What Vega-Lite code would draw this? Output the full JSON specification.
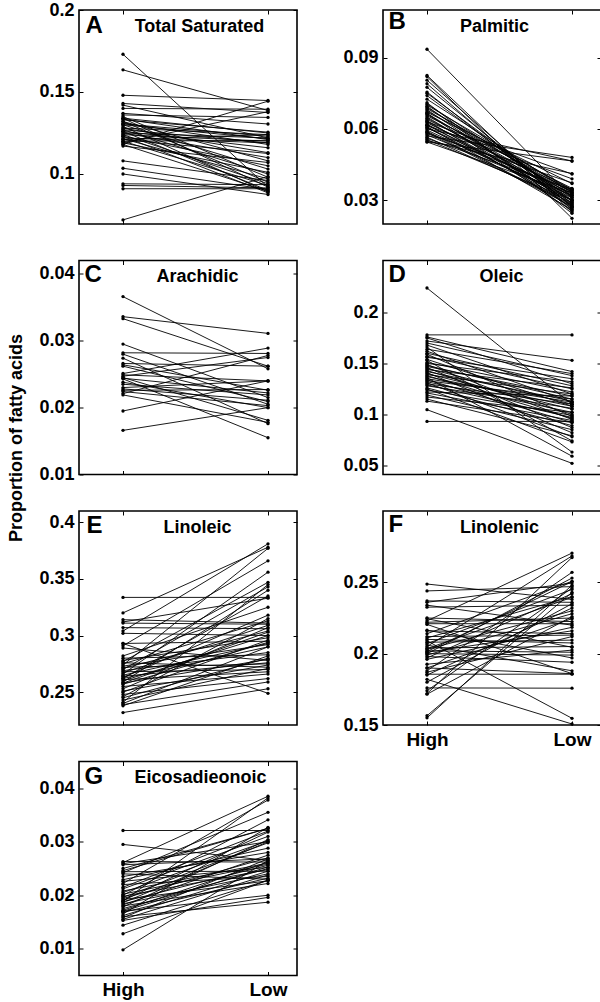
{
"$schema":"https://vega.github.io/schema/vega-lite/v6.json",
"padding":{"left":6,"top":0,"right":0,"bottom":0},
"background":"white",
"columns":2,
"spacing":{"row":36.5,"column":86},
"bounds":"flush",
"datasets":{
"A":[{"i":1,"g":"High","v":0.173},{"i":1,"g":"Low","v":0.092},{"i":2,"g":"High","v":0.1635},{"i":2,"g":"Low","v":0.1387},{"i":3,"g":"High","v":0.148},{"i":3,"g":"Low","v":0.1448},{"i":4,"g":"High","v":0.143},{"i":4,"g":"Low","v":0.1375},{"i":5,"g":"High","v":0.142},{"i":5,"g":"Low","v":0.122},{"i":6,"g":"High","v":0.14},{"i":6,"g":"Low","v":0.1395},{"i":7,"g":"High","v":0.137},{"i":7,"g":"Low","v":0.1305},{"i":8,"g":"High","v":0.136},{"i":8,"g":"Low","v":0.1345},{"i":9,"g":"High","v":0.135},{"i":9,"g":"Low","v":0.098},{"i":10,"g":"High","v":0.134},{"i":10,"g":"Low","v":0.125},{"i":11,"g":"High","v":0.134},{"i":11,"g":"Low","v":0.092},{"i":12,"g":"High","v":0.1335},{"i":12,"g":"Low","v":0.121},{"i":13,"g":"High","v":0.133},{"i":13,"g":"Low","v":0.1255},{"i":14,"g":"High","v":0.132},{"i":14,"g":"Low","v":0.108},{"i":15,"g":"High","v":0.132},{"i":15,"g":"Low","v":0.095},{"i":16,"g":"High","v":0.131},{"i":16,"g":"Low","v":0.118},{"i":17,"g":"High","v":0.1305},{"i":17,"g":"Low","v":0.123},{"i":18,"g":"High","v":0.13},{"i":18,"g":"Low","v":0.103},{"i":19,"g":"High","v":0.13},{"i":19,"g":"Low","v":0.1215},{"i":20,"g":"High","v":0.129},{"i":20,"g":"Low","v":0.089},{"i":21,"g":"High","v":0.128},{"i":21,"g":"Low","v":0.113},{"i":22,"g":"High","v":0.128},{"i":22,"g":"Low","v":0.124},{"i":23,"g":"High","v":0.127},{"i":23,"g":"Low","v":0.1},{"i":24,"g":"High","v":0.127},{"i":24,"g":"Low","v":0.119},{"i":25,"g":"High","v":0.126},{"i":25,"g":"Low","v":0.09},{"i":26,"g":"High","v":0.126},{"i":26,"g":"Low","v":0.116},{"i":27,"g":"High","v":0.125},{"i":27,"g":"Low","v":0.11},{"i":28,"g":"High","v":0.125},{"i":28,"g":"Low","v":0.122},{"i":29,"g":"High","v":0.124},{"i":29,"g":"Low","v":0.094},{"i":30,"g":"High","v":0.124},{"i":30,"g":"Low","v":0.12},{"i":31,"g":"High","v":0.123},{"i":31,"g":"Low","v":0.105},{"i":32,"g":"High","v":0.123},{"i":32,"g":"Low","v":0.0885},{"i":33,"g":"High","v":0.122},{"i":33,"g":"Low","v":0.119},{"i":34,"g":"High","v":0.1215},{"i":34,"g":"Low","v":0.097},{"i":35,"g":"High","v":0.121},{"i":35,"g":"Low","v":0.124},{"i":36,"g":"High","v":0.121},{"i":36,"g":"Low","v":0.1125},{"i":37,"g":"High","v":0.12},{"i":37,"g":"Low","v":0.093},{"i":38,"g":"High","v":0.12},{"i":38,"g":"Low","v":0.1205},{"i":39,"g":"High","v":0.119},{"i":39,"g":"Low","v":0.138},{"i":40,"g":"High","v":0.119},{"i":40,"g":"Low","v":0.101},{"i":41,"g":"High","v":0.118},{"i":41,"g":"Low","v":0.1444},{"i":42,"g":"High","v":0.118},{"i":42,"g":"Low","v":0.0895},{"i":43,"g":"High","v":0.117},{"i":43,"g":"Low","v":0.107},{"i":44,"g":"High","v":0.108},{"i":44,"g":"Low","v":0.096},{"i":45,"g":"High","v":0.1035},{"i":45,"g":"Low","v":0.0905},{"i":46,"g":"High","v":0.1},{"i":46,"g":"Low","v":0.0875},{"i":47,"g":"High","v":0.094},{"i":47,"g":"Low","v":0.0935},{"i":48,"g":"High","v":0.093},{"i":48,"g":"Low","v":0.0915},{"i":49,"g":"High","v":0.091},{"i":49,"g":"Low","v":0.091},{"i":50,"g":"High","v":0.072},{"i":50,"g":"Low","v":0.0985}],
"B":[{"i":1,"g":"High","v":0.0935},{"i":1,"g":"Low","v":0.031},{"i":2,"g":"High","v":0.0825},{"i":2,"g":"Low","v":0.025},{"i":3,"g":"High","v":0.082},{"i":3,"g":"Low","v":0.0224},{"i":4,"g":"High","v":0.0805},{"i":4,"g":"Low","v":0.027},{"i":5,"g":"High","v":0.079},{"i":5,"g":"Low","v":0.026},{"i":6,"g":"High","v":0.0775},{"i":6,"g":"Low","v":0.0285},{"i":7,"g":"High","v":0.0755},{"i":7,"g":"Low","v":0.0275},{"i":8,"g":"High","v":0.075},{"i":8,"g":"Low","v":0.03},{"i":9,"g":"High","v":0.074},{"i":9,"g":"Low","v":0.0295},{"i":10,"g":"High","v":0.0725},{"i":10,"g":"Low","v":0.033},{"i":11,"g":"High","v":0.071},{"i":11,"g":"Low","v":0.0245},{"i":12,"g":"High","v":0.0705},{"i":12,"g":"Low","v":0.031},{"i":13,"g":"High","v":0.07},{"i":13,"g":"Low","v":0.034},{"i":14,"g":"High","v":0.0695},{"i":14,"g":"Low","v":0.0265},{"i":15,"g":"High","v":0.069},{"i":15,"g":"Low","v":0.032},{"i":16,"g":"High","v":0.0685},{"i":16,"g":"Low","v":0.0345},{"i":17,"g":"High","v":0.068},{"i":17,"g":"Low","v":0.028},{"i":18,"g":"High","v":0.0675},{"i":18,"g":"Low","v":0.0335},{"i":19,"g":"High","v":0.067},{"i":19,"g":"Low","v":0.037},{"i":20,"g":"High","v":0.0665},{"i":20,"g":"Low","v":0.03},{"i":21,"g":"High","v":0.0665},{"i":21,"g":"Low","v":0.0255},{"i":22,"g":"High","v":0.066},{"i":22,"g":"Low","v":0.0325},{"i":23,"g":"High","v":0.0655},{"i":23,"g":"Low","v":0.035},{"i":24,"g":"High","v":0.065},{"i":24,"g":"Low","v":0.029},{"i":25,"g":"High","v":0.0645},{"i":25,"g":"Low","v":0.0315},{"i":26,"g":"High","v":0.064},{"i":26,"g":"Low","v":0.0335},{"i":27,"g":"High","v":0.0635},{"i":27,"g":"Low","v":0.027},{"i":28,"g":"High","v":0.063},{"i":28,"g":"Low","v":0.041},{"i":29,"g":"High","v":0.063},{"i":29,"g":"Low","v":0.03},{"i":30,"g":"High","v":0.0625},{"i":30,"g":"Low","v":0.0345},{"i":31,"g":"High","v":0.062},{"i":31,"g":"Low","v":0.0285},{"i":32,"g":"High","v":0.0615},{"i":32,"g":"Low","v":0.032},{"i":33,"g":"High","v":0.0615},{"i":33,"g":"Low","v":0.039},{"i":34,"g":"High","v":0.061},{"i":34,"g":"Low","v":0.026},{"i":35,"g":"High","v":0.0605},{"i":35,"g":"Low","v":0.033},{"i":36,"g":"High","v":0.0605},{"i":36,"g":"Low","v":0.03},{"i":37,"g":"High","v":0.06},{"i":37,"g":"Low","v":0.0465},{"i":38,"g":"High","v":0.0595},{"i":38,"g":"Low","v":0.031},{"i":39,"g":"High","v":0.059},{"i":39,"g":"Low","v":0.028},{"i":40,"g":"High","v":0.0585},{"i":40,"g":"Low","v":0.034},{"i":41,"g":"High","v":0.0585},{"i":41,"g":"Low","v":0.0275},{"i":42,"g":"High","v":0.058},{"i":42,"g":"Low","v":0.0373},{"i":43,"g":"High","v":0.0575},{"i":43,"g":"Low","v":0.032},{"i":44,"g":"High","v":0.057},{"i":44,"g":"Low","v":0.048},{"i":45,"g":"High","v":0.0565},{"i":45,"g":"Low","v":0.029},{"i":46,"g":"High","v":0.056},{"i":46,"g":"Low","v":0.0345},{"i":47,"g":"High","v":0.0555},{"i":47,"g":"Low","v":0.03},{"i":48,"g":"High","v":0.055},{"i":48,"g":"Low","v":0.0412},{"i":49,"g":"High","v":0.0545},{"i":49,"g":"Low","v":0.033},{"i":50,"g":"High","v":0.0545},{"i":50,"g":"Low","v":0.0465}],
"C":[{"i":1,"g":"High","v":0.0366},{"i":1,"g":"Low","v":0.0258},{"i":2,"g":"High","v":0.0336},{"i":2,"g":"Low","v":0.0311},{"i":3,"g":"High","v":0.0333},{"i":3,"g":"Low","v":0.0262},{"i":4,"g":"High","v":0.0295},{"i":4,"g":"Low","v":0.0215},{"i":5,"g":"High","v":0.0282},{"i":5,"g":"Low","v":0.0281},{"i":6,"g":"High","v":0.028},{"i":6,"g":"Low","v":0.0205},{"i":7,"g":"High","v":0.0274},{"i":7,"g":"Low","v":0.0176},{"i":8,"g":"High","v":0.0266},{"i":8,"g":"Low","v":0.0262},{"i":9,"g":"High","v":0.0264},{"i":9,"g":"Low","v":0.0226},{"i":10,"g":"High","v":0.0262},{"i":10,"g":"Low","v":0.0209},{"i":11,"g":"High","v":0.0251},{"i":11,"g":"Low","v":0.0289},{"i":12,"g":"High","v":0.0249},{"i":12,"g":"Low","v":0.024},{"i":13,"g":"High","v":0.0247},{"i":13,"g":"Low","v":0.0275},{"i":14,"g":"High","v":0.0245},{"i":14,"g":"Low","v":0.0181},{"i":15,"g":"High","v":0.0244},{"i":15,"g":"Low","v":0.0222},{"i":16,"g":"High","v":0.0243},{"i":16,"g":"Low","v":0.0155},{"i":17,"g":"High","v":0.0238},{"i":17,"g":"Low","v":0.02},{"i":18,"g":"High","v":0.0235},{"i":18,"g":"Low","v":0.0219},{"i":19,"g":"High","v":0.023},{"i":19,"g":"Low","v":0.024},{"i":20,"g":"High","v":0.0226},{"i":20,"g":"Low","v":0.0227},{"i":21,"g":"High","v":0.0224},{"i":21,"g":"Low","v":0.0203},{"i":22,"g":"High","v":0.0221},{"i":22,"g":"Low","v":0.0278},{"i":23,"g":"High","v":0.0219},{"i":23,"g":"Low","v":0.0178},{"i":24,"g":"High","v":0.0195},{"i":24,"g":"Low","v":0.024},{"i":25,"g":"High","v":0.0166},{"i":25,"g":"Low","v":0.02},{"i":26,"g":"High","v":0.0228},{"i":26,"g":"Low","v":0.0211}],
"D":[{"i":1,"g":"High","v":0.224},{"i":1,"g":"Low","v":0.11},{"i":2,"g":"High","v":0.178},{"i":2,"g":"Low","v":0.178},{"i":3,"g":"High","v":0.176},{"i":3,"g":"Low","v":0.142},{"i":4,"g":"High","v":0.175},{"i":4,"g":"Low","v":0.13},{"i":5,"g":"High","v":0.172},{"i":5,"g":"Low","v":0.153},{"i":6,"g":"High","v":0.17},{"i":6,"g":"Low","v":0.138},{"i":7,"g":"High","v":0.168},{"i":7,"g":"Low","v":0.12},{"i":8,"g":"High","v":0.166},{"i":8,"g":"Low","v":0.063},{"i":9,"g":"High","v":0.164},{"i":9,"g":"Low","v":0.14},{"i":10,"g":"High","v":0.162},{"i":10,"g":"Low","v":0.112},{"i":11,"g":"High","v":0.16},{"i":11,"g":"Low","v":0.128},{"i":12,"g":"High","v":0.159},{"i":12,"g":"Low","v":0.098},{"i":13,"g":"High","v":0.157},{"i":13,"g":"Low","v":0.125},{"i":14,"g":"High","v":0.156},{"i":14,"g":"Low","v":0.135},{"i":15,"g":"High","v":0.154},{"i":15,"g":"Low","v":0.108},{"i":16,"g":"High","v":0.153},{"i":16,"g":"Low","v":0.074},{"i":17,"g":"High","v":0.151},{"i":17,"g":"Low","v":0.122},{"i":18,"g":"High","v":0.15},{"i":18,"g":"Low","v":0.132},{"i":19,"g":"High","v":0.149},{"i":19,"g":"Low","v":0.095},{"i":20,"g":"High","v":0.148},{"i":20,"g":"Low","v":0.115},{"i":21,"g":"High","v":0.147},{"i":21,"g":"Low","v":0.118},{"i":22,"g":"High","v":0.146},{"i":22,"g":"Low","v":0.087},{"i":23,"g":"High","v":0.145},{"i":23,"g":"Low","v":0.11},{"i":24,"g":"High","v":0.144},{"i":24,"g":"Low","v":0.126},{"i":25,"g":"High","v":0.143},{"i":25,"g":"Low","v":0.1},{"i":26,"g":"High","v":0.142},{"i":26,"g":"Low","v":0.113},{"i":27,"g":"High","v":0.141},{"i":27,"g":"Low","v":0.082},{"i":28,"g":"High","v":0.14},{"i":28,"g":"Low","v":0.105},{"i":29,"g":"High","v":0.139},{"i":29,"g":"Low","v":0.12},{"i":30,"g":"High","v":0.138},{"i":30,"g":"Low","v":0.096},{"i":31,"g":"High","v":0.137},{"i":31,"g":"Low","v":0.108},{"i":32,"g":"High","v":0.136},{"i":32,"g":"Low","v":0.059},{"i":33,"g":"High","v":0.135},{"i":33,"g":"Low","v":0.112},{"i":34,"g":"High","v":0.134},{"i":34,"g":"Low","v":0.092},{"i":35,"g":"High","v":0.133},{"i":35,"g":"Low","v":0.115},{"i":36,"g":"High","v":0.132},{"i":36,"g":"Low","v":0.102},{"i":37,"g":"High","v":0.131},{"i":37,"g":"Low","v":0.078},{"i":38,"g":"High","v":0.13},{"i":38,"g":"Low","v":0.11},{"i":39,"g":"High","v":0.129},{"i":39,"g":"Low","v":0.097},{"i":40,"g":"High","v":0.128},{"i":40,"g":"Low","v":0.106},{"i":41,"g":"High","v":0.126},{"i":41,"g":"Low","v":0.089},{"i":42,"g":"High","v":0.125},{"i":42,"g":"Low","v":0.073},{"i":43,"g":"High","v":0.124},{"i":43,"g":"Low","v":0.099},{"i":44,"g":"High","v":0.122},{"i":44,"g":"Low","v":0.118},{"i":45,"g":"High","v":0.121},{"i":45,"g":"Low","v":0.094},{"i":46,"g":"High","v":0.119},{"i":46,"g":"Low","v":0.085},{"i":47,"g":"High","v":0.117},{"i":47,"g":"Low","v":0.102},{"i":48,"g":"High","v":0.115},{"i":48,"g":"Low","v":0.079},{"i":49,"g":"High","v":0.113},{"i":49,"g":"Low","v":0.092},{"i":50,"g":"High","v":0.1046},{"i":50,"g":"Low","v":0.052},{"i":51,"g":"High","v":0.0931},{"i":51,"g":"Low","v":0.0931}],
"E":[{"i":1,"g":"High","v":0.3337},{"i":1,"g":"Low","v":0.3337},{"i":2,"g":"High","v":0.32},{"i":2,"g":"Low","v":0.378},{"i":3,"g":"High","v":0.314},{"i":3,"g":"Low","v":0.311},{"i":4,"g":"High","v":0.312},{"i":4,"g":"Low","v":0.333},{"i":5,"g":"High","v":0.311},{"i":5,"g":"Low","v":0.31},{"i":6,"g":"High","v":0.307},{"i":6,"g":"Low","v":0.306},{"i":7,"g":"High","v":0.304},{"i":7,"g":"Low","v":0.381},{"i":8,"g":"High","v":0.302},{"i":8,"g":"Low","v":0.3},{"i":9,"g":"High","v":0.293},{"i":9,"g":"Low","v":0.249},{"i":10,"g":"High","v":0.293},{"i":10,"g":"Low","v":0.295},{"i":11,"g":"High","v":0.291},{"i":11,"g":"Low","v":0.366},{"i":12,"g":"High","v":0.289},{"i":12,"g":"Low","v":0.278},{"i":13,"g":"High","v":0.282},{"i":13,"g":"Low","v":0.325},{"i":14,"g":"High","v":0.28},{"i":14,"g":"Low","v":0.283},{"i":15,"g":"High","v":0.278},{"i":15,"g":"Low","v":0.298},{"i":16,"g":"High","v":0.277},{"i":16,"g":"Low","v":0.347},{"i":17,"g":"High","v":0.276},{"i":17,"g":"Low","v":0.272},{"i":18,"g":"High","v":0.275},{"i":18,"g":"Low","v":0.313},{"i":19,"g":"High","v":0.274},{"i":19,"g":"Low","v":0.377},{"i":20,"g":"High","v":0.273},{"i":20,"g":"Low","v":0.292},{"i":21,"g":"High","v":0.272},{"i":21,"g":"Low","v":0.275},{"i":22,"g":"High","v":0.271},{"i":22,"g":"Low","v":0.304},{"i":23,"g":"High","v":0.27},{"i":23,"g":"Low","v":0.343},{"i":24,"g":"High","v":0.269},{"i":24,"g":"Low","v":0.285},{"i":25,"g":"High","v":0.268},{"i":25,"g":"Low","v":0.27},{"i":26,"g":"High","v":0.267},{"i":26,"g":"Low","v":0.309},{"i":27,"g":"High","v":0.266},{"i":27,"g":"Low","v":0.356},{"i":28,"g":"High","v":0.265},{"i":28,"g":"Low","v":0.293},{"i":29,"g":"High","v":0.264},{"i":29,"g":"Low","v":0.276},{"i":30,"g":"High","v":0.263},{"i":30,"g":"Low","v":0.318},{"i":31,"g":"High","v":0.262},{"i":31,"g":"Low","v":0.29},{"i":32,"g":"High","v":0.261},{"i":32,"g":"Low","v":0.268},{"i":33,"g":"High","v":0.26},{"i":33,"g":"Low","v":0.3},{"i":34,"g":"High","v":0.259},{"i":34,"g":"Low","v":0.34},{"i":35,"g":"High","v":0.258},{"i":35,"g":"Low","v":0.279},{"i":36,"g":"High","v":0.257},{"i":36,"g":"Low","v":0.294},{"i":37,"g":"High","v":0.255},{"i":37,"g":"Low","v":0.266},{"i":38,"g":"High","v":0.253},{"i":38,"g":"Low","v":0.307},{"i":39,"g":"High","v":0.251},{"i":39,"g":"Low","v":0.274},{"i":40,"g":"High","v":0.25},{"i":40,"g":"Low","v":0.296},{"i":41,"g":"High","v":0.248},{"i":41,"g":"Low","v":0.262},{"i":42,"g":"High","v":0.246},{"i":42,"g":"Low","v":0.315},{"i":43,"g":"High","v":0.245},{"i":43,"g":"Low","v":0.28},{"i":44,"g":"High","v":0.243},{"i":44,"g":"Low","v":0.271},{"i":45,"g":"High","v":0.241},{"i":45,"g":"Low","v":0.345},{"i":46,"g":"High","v":0.24},{"i":46,"g":"Low","v":0.29},{"i":47,"g":"High","v":0.239},{"i":47,"g":"Low","v":0.259},{"i":48,"g":"High","v":0.238},{"i":48,"g":"Low","v":0.282},{"i":49,"g":"High","v":0.232},{"i":49,"g":"Low","v":0.253},{"i":50,"g":"High","v":0.258},{"i":50,"g":"Low","v":0.303},{"i":51,"g":"High","v":0.262},{"i":51,"g":"Low","v":0.335}],
"F":[{"i":1,"g":"High","v":0.2488},{"i":1,"g":"Low","v":0.238},{"i":2,"g":"High","v":0.244},{"i":2,"g":"Low","v":0.247},{"i":3,"g":"High","v":0.237},{"i":3,"g":"Low","v":0.236},{"i":4,"g":"High","v":0.236},{"i":4,"g":"Low","v":0.2495},{"i":5,"g":"High","v":0.234},{"i":5,"g":"Low","v":0.22},{"i":6,"g":"High","v":0.2326},{"i":6,"g":"Low","v":0.234},{"i":7,"g":"High","v":0.2245},{"i":7,"g":"Low","v":0.2045},{"i":8,"g":"High","v":0.223},{"i":8,"g":"Low","v":0.2705},{"i":9,"g":"High","v":0.222},{"i":9,"g":"Low","v":0.225},{"i":10,"g":"High","v":0.2205},{"i":10,"g":"Low","v":0.186},{"i":11,"g":"High","v":0.221},{"i":11,"g":"Low","v":0.221},{"i":12,"g":"High","v":0.216},{"i":12,"g":"Low","v":0.214},{"i":13,"g":"High","v":0.214},{"i":13,"g":"Low","v":0.2507},{"i":14,"g":"High","v":0.212},{"i":14,"g":"Low","v":0.213},{"i":15,"g":"High","v":0.211},{"i":15,"g":"Low","v":0.24},{"i":16,"g":"High","v":0.209},{"i":16,"g":"Low","v":0.1547},{"i":17,"g":"High","v":0.208},{"i":17,"g":"Low","v":0.2095},{"i":18,"g":"High","v":0.207},{"i":18,"g":"Low","v":0.245},{"i":19,"g":"High","v":0.206},{"i":19,"g":"Low","v":0.188},{"i":20,"g":"High","v":0.205},{"i":20,"g":"Low","v":0.2685},{"i":21,"g":"High","v":0.204},{"i":21,"g":"Low","v":0.205},{"i":22,"g":"High","v":0.203},{"i":22,"g":"Low","v":0.23},{"i":23,"g":"High","v":0.202},{"i":23,"g":"Low","v":0.201},{"i":24,"g":"High","v":0.2015},{"i":24,"g":"Low","v":0.2505},{"i":25,"g":"High","v":0.201},{"i":25,"g":"Low","v":0.216},{"i":26,"g":"High","v":0.2},{"i":26,"g":"Low","v":0.199},{"i":27,"g":"High","v":0.199},{"i":27,"g":"Low","v":0.228},{"i":28,"g":"High","v":0.198},{"i":28,"g":"Low","v":0.194},{"i":29,"g":"High","v":0.197},{"i":29,"g":"Low","v":0.242},{"i":30,"g":"High","v":0.1926},{"i":30,"g":"Low","v":0.2025},{"i":31,"g":"High","v":0.19},{"i":31,"g":"Low","v":0.186},{"i":32,"g":"High","v":0.188},{"i":32,"g":"Low","v":0.257},{"i":33,"g":"High","v":0.187},{"i":33,"g":"Low","v":0.212},{"i":34,"g":"High","v":0.1856},{"i":34,"g":"Low","v":0.1856},{"i":35,"g":"High","v":0.182},{"i":35,"g":"Low","v":0.1507},{"i":36,"g":"High","v":0.18},{"i":36,"g":"Low","v":0.235},{"i":37,"g":"High","v":0.176},{"i":37,"g":"Low","v":0.1758},{"i":38,"g":"High","v":0.174},{"i":38,"g":"Low","v":0.246},{"i":39,"g":"High","v":0.172},{"i":39,"g":"Low","v":0.2674},{"i":40,"g":"High","v":0.1716},{"i":40,"g":"Low","v":0.226},{"i":41,"g":"High","v":0.155},{"i":41,"g":"Low","v":0.248},{"i":42,"g":"High","v":0.1565},{"i":42,"g":"Low","v":0.243},{"i":43,"g":"High","v":0.196},{"i":43,"g":"Low","v":0.2185},{"i":44,"g":"High","v":0.21},{"i":44,"g":"Low","v":0.2075},{"i":45,"g":"High","v":0.225},{"i":45,"g":"Low","v":0.2225},{"i":46,"g":"High","v":0.185},{"i":46,"g":"Low","v":0.232},{"i":47,"g":"High","v":0.2165},{"i":47,"g":"Low","v":0.197},{"i":48,"g":"High","v":0.19},{"i":48,"g":"Low","v":0.2245},{"i":49,"g":"High","v":0.2035},{"i":49,"g":"Low","v":0.2395},{"i":50,"g":"High","v":0.2},{"i":50,"g":"Low","v":0.253}],
"G":[{"i":1,"g":"High","v":0.0321},{"i":1,"g":"Low","v":0.0321},{"i":2,"g":"High","v":0.0295},{"i":2,"g":"Low","v":0.0265},{"i":3,"g":"High","v":0.0263},{"i":3,"g":"Low","v":0.0262},{"i":4,"g":"High","v":0.0261},{"i":4,"g":"Low","v":0.0385},{"i":5,"g":"High","v":0.0259},{"i":5,"g":"Low","v":0.03},{"i":6,"g":"High","v":0.0257},{"i":6,"g":"Low","v":0.0268},{"i":7,"g":"High","v":0.0246},{"i":7,"g":"Low","v":0.0325},{"i":8,"g":"High","v":0.0244},{"i":8,"g":"Low","v":0.0245},{"i":9,"g":"High","v":0.0242},{"i":9,"g":"Low","v":0.0355},{"i":10,"g":"High","v":0.024},{"i":10,"g":"Low","v":0.023},{"i":11,"g":"High","v":0.0229},{"i":11,"g":"Low","v":0.0288},{"i":12,"g":"High","v":0.0226},{"i":12,"g":"Low","v":0.0252},{"i":13,"g":"High","v":0.0222},{"i":13,"g":"Low","v":0.0378},{"i":14,"g":"High","v":0.022},{"i":14,"g":"Low","v":0.0235},{"i":15,"g":"High","v":0.0212},{"i":15,"g":"Low","v":0.031},{"i":16,"g":"High","v":0.0208},{"i":16,"g":"Low","v":0.026},{"i":17,"g":"High","v":0.0205},{"i":17,"g":"Low","v":0.0302},{"i":18,"g":"High","v":0.0202},{"i":18,"g":"Low","v":0.0258},{"i":19,"g":"High","v":0.02},{"i":19,"g":"Low","v":0.0341},{"i":20,"g":"High","v":0.0198},{"i":20,"g":"Low","v":0.0248},{"i":21,"g":"High","v":0.0196},{"i":21,"g":"Low","v":0.0298},{"i":22,"g":"High","v":0.0194},{"i":22,"g":"Low","v":0.027},{"i":23,"g":"High","v":0.0192},{"i":23,"g":"Low","v":0.0227},{"i":24,"g":"High","v":0.019},{"i":24,"g":"Low","v":0.0318},{"i":25,"g":"High","v":0.0188},{"i":25,"g":"Low","v":0.0256},{"i":26,"g":"High","v":0.0186},{"i":26,"g":"Low","v":0.03},{"i":27,"g":"High","v":0.0184},{"i":27,"g":"Low","v":0.024},{"i":28,"g":"High","v":0.0182},{"i":28,"g":"Low","v":0.0275},{"i":29,"g":"High","v":0.018},{"i":29,"g":"Low","v":0.0222},{"i":30,"g":"High","v":0.0178},{"i":30,"g":"Low","v":0.0304},{"i":31,"g":"High","v":0.0175},{"i":31,"g":"Low","v":0.025},{"i":32,"g":"High","v":0.0172},{"i":32,"g":"Low","v":0.0262},{"i":33,"g":"High","v":0.017},{"i":33,"g":"Low","v":0.02},{"i":34,"g":"High","v":0.0168},{"i":34,"g":"Low","v":0.0232},{"i":35,"g":"High","v":0.0165},{"i":35,"g":"Low","v":0.0327},{"i":36,"g":"High","v":0.0162},{"i":36,"g":"Low","v":0.0245},{"i":37,"g":"High","v":0.016},{"i":37,"g":"Low","v":0.0187},{"i":38,"g":"High","v":0.0158},{"i":38,"g":"Low","v":0.0268},{"i":39,"g":"High","v":0.0155},{"i":39,"g":"Low","v":0.0238},{"i":40,"g":"High","v":0.0153},{"i":40,"g":"Low","v":0.0196},{"i":41,"g":"High","v":0.0144},{"i":41,"g":"Low","v":0.0228},{"i":42,"g":"High","v":0.0128},{"i":42,"g":"Low","v":0.0228},{"i":43,"g":"High","v":0.0098},{"i":43,"g":"Low","v":0.0265},{"i":44,"g":"High","v":0.0215},{"i":44,"g":"Low","v":0.032},{"i":45,"g":"High","v":0.0235},{"i":45,"g":"Low","v":0.028},{"i":46,"g":"High","v":0.025},{"i":46,"g":"Low","v":0.0325},{"i":47,"g":"High","v":0.0189},{"i":47,"g":"Low","v":0.0382},{"i":48,"g":"High","v":0.017},{"i":48,"g":"Low","v":0.0253}]
},
"concat":[
{"width":218,"height":214,"data":{"name":"A"},
 "layer":[
  {"mark":{"type":"line","color":"black","strokeWidth":0.9},
   "encoding":{
    "x":{"field":"g","type":"ordinal","scale":{"type":"point","domain":["High","Low"],"padding":0.2517,"align":0.6027},"axis":{"orient":"bottom","labels":false,"title":null}},
    "y":{"field":"v","type":"quantitative","scale":{"domain":[0.0695,0.2],"nice":false,"zero":false},"axis":{"orient":"left","values":[0.1,0.15,0.2],"format":"~g","title":null}},
    "detail":{"field":"i","type":"nominal"}}},
  {"mark":{"type":"circle","color":"black","size":11,"opacity":1},
   "encoding":{
    "x":{"field":"g","type":"ordinal","axis":{"orient":"top","labels":false,"title":"Total Saturated","titleX":120,"titleY":21,"titleAlign":"center","titleBaseline":"alphabetic","titleFontSize":18}},
    "y":{"field":"v","type":"quantitative","axis":{"orient":"right","values":[0.1,0.15,0.2],"labels":false,"title":"A","titleAngle":0,"titleX":-212,"titleY":22,"titleAlign":"left","titleBaseline":"alphabetic","titleFontSize":24}}}}
 ],
 "resolve":{"axis":{"x":"independent","y":"independent"}}},
{"width":218,"height":214,"data":{"name":"B"},
 "layer":[
  {"mark":{"type":"line","color":"black","strokeWidth":0.9},
   "encoding":{
    "x":{"field":"g","type":"ordinal","scale":{"type":"point","domain":["High","Low"],"padding":0.2517,"align":0.6027},"axis":{"orient":"bottom","labels":false,"title":null}},
    "y":{"field":"v","type":"quantitative","scale":{"domain":[0.02,0.11],"nice":false,"zero":false},"axis":{"orient":"left","values":[0.03,0.06,0.09],"format":"~g","title":null}},
    "detail":{"field":"i","type":"nominal"}}},
  {"mark":{"type":"circle","color":"black","size":11,"opacity":1},
   "encoding":{
    "x":{"field":"g","type":"ordinal","axis":{"orient":"top","labels":false,"title":"Palmitic","titleX":111,"titleY":21,"titleAlign":"center","titleBaseline":"alphabetic","titleFontSize":18}},
    "y":{"field":"v","type":"quantitative","axis":{"orient":"right","values":[0.03,0.06,0.09],"labels":false,"title":"B","titleAngle":0,"titleX":-213,"titleY":18,"titleAlign":"left","titleBaseline":"alphabetic","titleFontSize":24}}}}
 ],
 "resolve":{"axis":{"x":"independent","y":"independent"}}},
{"width":218,"height":214,"data":{"name":"C"},
 "layer":[
  {"mark":{"type":"line","color":"black","strokeWidth":0.9},
   "encoding":{
    "x":{"field":"g","type":"ordinal","scale":{"type":"point","domain":["High","Low"],"padding":0.2517,"align":0.6027},"axis":{"orient":"bottom","labels":false,"title":null}},
    "y":{"field":"v","type":"quantitative","scale":{"domain":[0.01,0.042],"nice":false,"zero":false},"axis":{"orient":"left","values":[0.01,0.02,0.03,0.04],"format":"~g","title":"Proportion of fatty acids","titleAngle":-90,"titleX":-63,"titleY":177,"titleAlign":"center","titleBaseline":"middle","titleFontSize":18}},
    "detail":{"field":"i","type":"nominal"}}},
  {"mark":{"type":"circle","color":"black","size":11,"opacity":1},
   "encoding":{
    "x":{"field":"g","type":"ordinal","axis":{"orient":"top","labels":false,"title":"Arachidic","titleX":118,"titleY":21,"titleAlign":"center","titleBaseline":"alphabetic","titleFontSize":18}},
    "y":{"field":"v","type":"quantitative","axis":{"orient":"right","values":[0.01,0.02,0.03,0.04],"labels":false,"title":"C","titleAngle":0,"titleX":-213,"titleY":21,"titleAlign":"left","titleBaseline":"alphabetic","titleFontSize":24}}}}
 ],
 "resolve":{"axis":{"x":"independent","y":"independent"}}},
{"width":218,"height":214,"data":{"name":"D"},
 "layer":[
  {"mark":{"type":"line","color":"black","strokeWidth":0.9},
   "encoding":{
    "x":{"field":"g","type":"ordinal","scale":{"type":"point","domain":["High","Low"],"padding":0.2517,"align":0.6027},"axis":{"orient":"bottom","labels":false,"title":null}},
    "y":{"field":"v","type":"quantitative","scale":{"domain":[0.041,0.251],"nice":false,"zero":false},"axis":{"orient":"left","values":[0.05,0.1,0.15,0.2],"format":"~g","title":null}},
    "detail":{"field":"i","type":"nominal"}}},
  {"mark":{"type":"circle","color":"black","size":11,"opacity":1},
   "encoding":{
    "x":{"field":"g","type":"ordinal","axis":{"orient":"top","labels":false,"title":"Oleic","titleX":118,"titleY":21,"titleAlign":"center","titleBaseline":"alphabetic","titleFontSize":18}},
    "y":{"field":"v","type":"quantitative","axis":{"orient":"right","values":[0.05,0.1,0.15,0.2],"labels":false,"title":"D","titleAngle":0,"titleX":-213,"titleY":21,"titleAlign":"left","titleBaseline":"alphabetic","titleFontSize":24}}}}
 ],
 "resolve":{"axis":{"x":"independent","y":"independent"}}},
{"width":218,"height":214,"data":{"name":"E"},
 "layer":[
  {"mark":{"type":"line","color":"black","strokeWidth":0.9},
   "encoding":{
    "x":{"field":"g","type":"ordinal","scale":{"type":"point","domain":["High","Low"],"padding":0.2517,"align":0.6027},"axis":{"orient":"bottom","labels":false,"title":null}},
    "y":{"field":"v","type":"quantitative","scale":{"domain":[0.221,0.41],"nice":false,"zero":false},"axis":{"orient":"left","values":[0.25,0.3,0.35,0.4],"format":"~g","title":null}},
    "detail":{"field":"i","type":"nominal"}}},
  {"mark":{"type":"circle","color":"black","size":11,"opacity":1},
   "encoding":{
    "x":{"field":"g","type":"ordinal","axis":{"orient":"top","labels":false,"title":"Linoleic","titleX":118,"titleY":21,"titleAlign":"center","titleBaseline":"alphabetic","titleFontSize":18}},
    "y":{"field":"v","type":"quantitative","axis":{"orient":"right","values":[0.25,0.3,0.35,0.4],"labels":false,"title":"E","titleAngle":0,"titleX":-211,"titleY":21,"titleAlign":"left","titleBaseline":"alphabetic","titleFontSize":24}}}}
 ],
 "resolve":{"axis":{"x":"independent","y":"independent"}}},
{"width":218,"height":214,"data":{"name":"F"},
 "layer":[
  {"mark":{"type":"line","color":"black","strokeWidth":0.9},
   "encoding":{
    "x":{"field":"g","type":"ordinal","scale":{"type":"point","domain":["High","Low"],"padding":0.2517,"align":0.6027},"axis":{"orient":"bottom","labels":true,"labelFontSize":19,"labelAngle":0,"title":null}},
    "y":{"field":"v","type":"quantitative","scale":{"domain":[0.15,0.3],"nice":false,"zero":false},"axis":{"orient":"left","values":[0.15,0.2,0.25],"format":"~g","title":null}},
    "detail":{"field":"i","type":"nominal"}}},
  {"mark":{"type":"circle","color":"black","size":11,"opacity":1},
   "encoding":{
    "x":{"field":"g","type":"ordinal","axis":{"orient":"top","labels":false,"title":"Linolenic","titleX":116,"titleY":21,"titleAlign":"center","titleBaseline":"alphabetic","titleFontSize":18}},
    "y":{"field":"v","type":"quantitative","axis":{"orient":"right","values":[0.15,0.2,0.25],"labels":false,"title":"F","titleAngle":0,"titleX":-213,"titleY":20,"titleAlign":"left","titleBaseline":"alphabetic","titleFontSize":24}}}}
 ],
 "resolve":{"axis":{"x":"independent","y":"independent"}}},
{"width":218,"height":214,"data":{"name":"G"},
 "layer":[
  {"mark":{"type":"line","color":"black","strokeWidth":0.9},
   "encoding":{
    "x":{"field":"g","type":"ordinal","scale":{"type":"point","domain":["High","Low"],"padding":0.2517,"align":0.6027},"axis":{"orient":"bottom","labels":true,"labelFontSize":19,"labelAngle":0,"title":null}},
    "y":{"field":"v","type":"quantitative","scale":{"domain":[0.005,0.045],"nice":false,"zero":false},"axis":{"orient":"left","values":[0.01,0.02,0.03,0.04],"format":"~g","title":null}},
    "detail":{"field":"i","type":"nominal"}}},
  {"mark":{"type":"circle","color":"black","size":11,"opacity":1},
   "encoding":{
    "x":{"field":"g","type":"ordinal","axis":{"orient":"top","labels":false,"title":"Eicosadieonoic","titleX":121,"titleY":21,"titleAlign":"center","titleBaseline":"alphabetic","titleFontSize":18}},
    "y":{"field":"v","type":"quantitative","axis":{"orient":"right","values":[0.01,0.02,0.03,0.04],"labels":false,"title":"G","titleAngle":0,"titleX":-213,"titleY":22,"titleAlign":"left","titleBaseline":"alphabetic","titleFontSize":24}}}}
 ],
 "resolve":{"axis":{"x":"independent","y":"independent"}}}
],
"config":{
 "font":"Liberation Sans",
 "view":{"stroke":"black","strokeWidth":1.6},
 "axis":{"grid":false,"domain":false,"tickSize":-4,"tickColor":"black","tickWidth":1,"labelPadding":9,"labelFont":"Liberation Sans","labelFontSize":18,"labelFontWeight":"bold","labelColor":"black","titleFont":"Liberation Sans","titleFontWeight":"bold","titleColor":"black"}
}
}
